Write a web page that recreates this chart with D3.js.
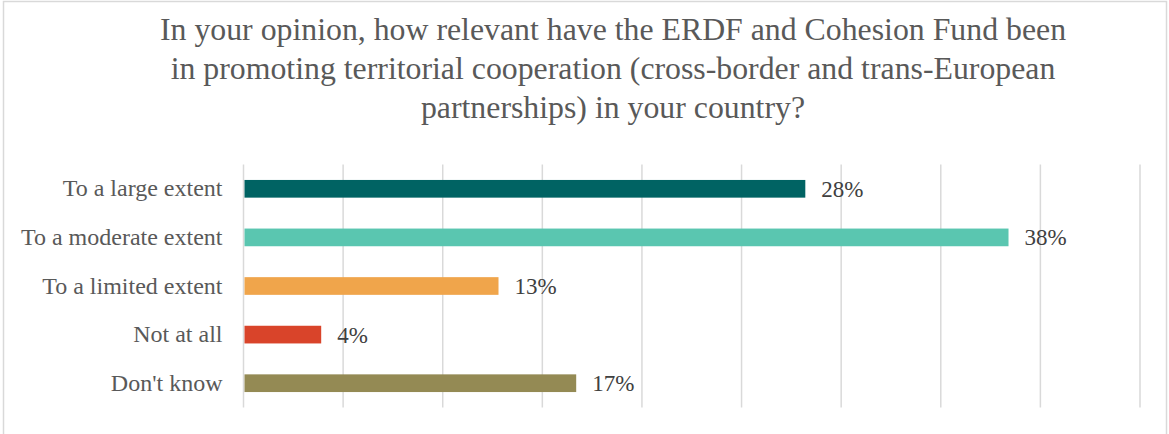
<!DOCTYPE html>
<html>
<head>
<meta charset="utf-8">
<script src="https://cdn.jsdelivr.net/npm/d3@7"></script>
<style>
  html, body { margin: 0; padding: 0; background: #fff; }
  svg { display: block; }
</style>
</head>
<body>
<svg id="chart" width="1169" height="434"></svg>
<script>
// Survey answers, shares of respondents (%)
const categories = ["To a large extent", "To a moderate extent", "To a limited extent", "Not at all", "Don't know"];
const shares = [28.2, 38.4, 12.8, 3.9, 16.7];
const barColors = ["#006363", "#5ac6b0", "#f0a54b", "#d9442a", "#948a54"];
const gridTicks = [0, 5, 10, 15, 20, 25, 30, 35, 40, 45];
const titleLines = [
  "In your opinion, how relevant have the ERDF and Cohesion Fund been",
  "in promoting territorial cooperation (cross-border and trans-European",
  "partnerships) in your country?"
];

const W = 1169, H = 434;
const font = "'Liberation Serif', 'Times New Roman', serif";
const svg = d3.select("#chart");

// Chart frame
svg.append("rect")
  .attr("x", 3.5).attr("y", 1.5)
  .attr("width", W - 6).attr("height", H + 10)
  .attr("fill", "#fff")
  .attr("stroke", "#d9d9d9").attr("stroke-width", 1.5);

// Title
const title = svg.append("text")
  .attr("text-anchor", "middle")
  .attr("font-family", font)
  .attr("font-size", 31.8)
  .attr("fill", "#595959");
titleLines.forEach((line, i) => {
  title.append("tspan")
    .attr("x", 613).attr("y", 40 + i * 39)
    .text(line);
});

// Scales
const x = d3.scaleLinear().domain([0, 45]).range([243.5, 1140]);
const y = d3.scaleBand().domain(categories).range([164.5, 407.5])
  .paddingInner(0.636).paddingOuter(0.318);

// Vertical gridlines
svg.append("g")
  .selectAll("line")
  .data(gridTicks)
  .join("line")
  .attr("x1", d => x(d)).attr("x2", d => x(d))
  .attr("y1", y.range()[0]).attr("y2", y.range()[1])
  .attr("stroke", "#d9d9d9").attr("stroke-width", 1.5);

// Category axis labels
const yAxis = svg.append("g")
  .attr("transform", `translate(${x(0) - 21},0)`)
  .call(d3.axisLeft(y).tickSize(0).tickPadding(0));
yAxis.select(".domain").remove();
yAxis.selectAll("text")
  .attr("font-family", font)
  .attr("font-size", 24)
  .attr("fill", "#595959");

const rows = categories.map((c, i) => ({ c, v: shares[i], color: barColors[i] }));

// Bars
svg.append("g")
  .selectAll("rect")
  .data(rows)
  .join("rect")
  .attr("x", x(0) + 1)
  .attr("y", d => y(d.c))
  .attr("width", d => x(d.v) - x(0) - 1)
  .attr("height", y.bandwidth())
  .attr("fill", d => d.color);

// Value labels
svg.append("g")
  .selectAll("text")
  .data(rows)
  .join("text")
  .attr("x", d => x(d.v) + 16)
  .attr("y", d => y(d.c) + y.bandwidth() / 2)
  .attr("dy", "0.35em")
  .attr("font-family", font)
  .attr("font-size", 23)
  .attr("fill", "#404040")
  .text(d => d3.format(".0f")(d.v) + "%");
</script>
</body>
</html>
